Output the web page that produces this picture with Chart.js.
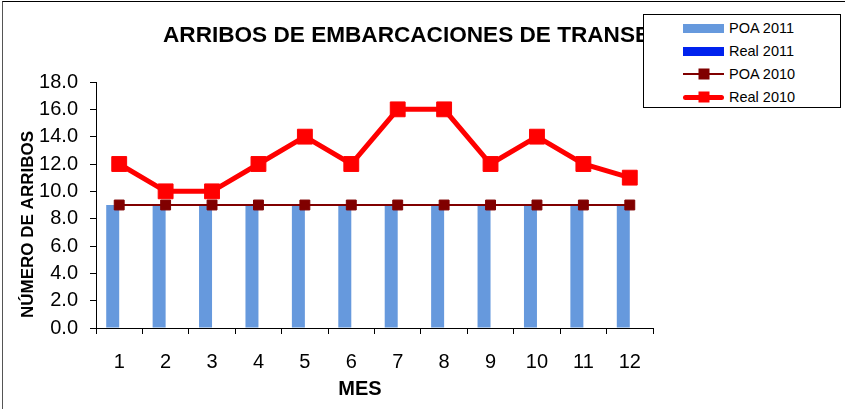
<!DOCTYPE html>
<html>
<head>
<meta charset="utf-8">
<script src="https://cdn.jsdelivr.net/npm/chart.js@4/dist/chart.umd.min.js"></script>
<style>
  html, body { margin: 0; padding: 0; background: #fff; }
  #wrap { position: relative; width: 845px; height: 409px; overflow: hidden; }
  #frame { position: absolute; left: 2px; top: 1px; right: -5px; bottom: -5px;
           border-left: 1px solid #555; border-top: 1px solid #000; pointer-events: none; }
  canvas { position: absolute; left: 0; top: 0; }
  #legend { position: absolute; left: 643px; top: 14px; width: 196px; height: 92px;
            border: 1px solid #000; background: #fff;
            font-family: Arial, "Liberation Sans", sans-serif; font-size: 14.5px; color: #000; }
  .row { position: absolute; left: 0; width: 100%; height: 20px; }
  .row span { position: absolute; left: 85px; top: 50%; transform: translateY(-52%); white-space: nowrap; }
  .sw { position: absolute; left: 39px; width: 41px; top: 50%; }
  .bar { height: 9px; margin-top: -4.5px; }
  .ln { height: 2px; margin-top: -1px; }
  .ln.thick { height: 5px; margin-top: -2.5px; border-radius: 3px; }
  .mk { position: absolute; left: 50%; top: 50%; width: 11px; height: 11px; transform: translate(-50%, -50%); }
</style>
</head>
<body>
<div id="wrap">
  <canvas id="chart" width="845" height="409"></canvas>
  <div id="frame"></div>
  <div id="legend"></div>
</div>
<script>
const months = ['1', '2', '3', '4', '5', '6', '7', '8', '9', '10', '11', '12'];
const poa2011 = [9, 9, 9, 9, 9, 9, 9, 9, 9, 9, 9, 9];
const real2011 = [];
const poa2010 = [9, 9, 9, 9, 9, 9, 9, 9, 9, 9, 9, 9];
const real2010 = [12, 10, 10, 12, 14, 12, 16, 16, 12, 14, 12, 11];

const titleText = 'ARRIBOS DE EMBARCACIONES DE TRANSBORDO';
const xTitle = 'MES';
const yTitle = 'NÚMERO DE ARRIBOS';

const colors = {
    poa2011: '#6699DD',
    real2011: '#0022EE',
    poa2010: '#800000',
    real2010: '#FF0000'
};

Chart.defaults.font.family = 'Arial, "Liberation Sans", sans-serif';
Chart.defaults.color = '#000';

// titles drawn by hand so they sit where the original puts them
const textPlugin = {
    id: 'texts',
    afterDraw(chart) {
        const ctx = chart.ctx;
        ctx.save();
        ctx.fillStyle = '#000';
        ctx.textBaseline = 'alphabetic';

        ctx.font = 'bold 22.6px Arial, "Liberation Sans", sans-serif';
        ctx.textAlign = 'left';
        ctx.fillText(titleText, 163, 42);

        ctx.font = 'bold 20px Arial, "Liberation Sans", sans-serif';
        ctx.textAlign = 'center';
        ctx.fillText(xTitle, 360, 395);

        ctx.font = 'bold 17px Arial, "Liberation Sans", sans-serif';
        ctx.translate(33, 224.5);
        ctx.rotate(-Math.PI / 2);
        ctx.fillText(yTitle, 0, 0);
        ctx.restore();
    }
};

new Chart(document.getElementById('chart'), {
    type: 'bar',
    data: {
        labels: months,
        datasets: [
            {
                label: 'POA 2011',
                data: poa2011,
                backgroundColor: colors.poa2011,
                borderWidth: 0,
                categoryPercentage: 0.56,
                barPercentage: 1.0,
                order: 3
            },
            {
                label: 'Real 2011',
                data: real2011,
                backgroundColor: colors.real2011,
                borderWidth: 0,
                categoryPercentage: 0.56,
                barPercentage: 1.0,
                order: 3
            },
            {
                type: 'line',
                label: 'POA 2010',
                data: poa2010,
                borderColor: colors.poa2010,
                backgroundColor: colors.poa2010,
                borderWidth: 2,
                pointStyle: 'rect',
                pointRadius: 7,
                pointBorderWidth: 1,
                pointBorderColor: colors.poa2010,
                pointBackgroundColor: colors.poa2010,
                tension: 0,
                order: 2
            },
            {
                type: 'line',
                label: 'Real 2010',
                data: real2010,
                borderColor: colors.real2010,
                backgroundColor: colors.real2010,
                borderWidth: 5,
                pointStyle: 'rect',
                pointRadius: 10.5,
                pointBorderWidth: 1,
                pointBorderColor: colors.real2010,
                pointBackgroundColor: colors.real2010,
                tension: 0,
                order: 1
            }
        ]
    },
    options: {
        responsive: false,
        animation: false,
        layout: { padding: { top: 82, right: 192, bottom: 0, left: 0 } },
        plugins: {
            legend: { display: false },
            title: { display: false },
            tooltip: { enabled: false }
        },
        scales: {
            x: {
                offset: true,
                grid: {
                    offset: true,
                    drawOnChartArea: false,
                    drawTicks: true,
                    tickLength: 6,
                    color: '#000'
                },
                border: { color: '#000', width: 1 },
                ticks: {
                    font: { size: 20 },
                    color: '#000',
                    padding: 16,
                    maxRotation: 0
                },
                afterFit(scale) { scale.height = 81; }
            },
            y: {
                min: 0,
                max: 18,
                grid: {
                    drawOnChartArea: false,
                    drawTicks: true,
                    tickLength: 6,
                    color: '#000'
                },
                border: { color: '#000', width: 1 },
                ticks: {
                    stepSize: 2,
                    font: { size: 20 },
                    color: '#000',
                    padding: 12,
                    callback: function(value) {
                        return value.toFixed(1);
                    }
                },
                afterFit(scale) { scale.width = 96; }
            }
        }
    },
    plugins: [textPlugin]
});

// legend box laid over the title, like the original
const legendItems = [
    { label: 'POA 2011', kind: 'bar', color: colors.poa2011 },
    { label: 'Real 2011', kind: 'bar', color: colors.real2011 },
    { label: 'POA 2010', kind: 'line', color: colors.poa2010 },
    { label: 'Real 2010', kind: 'thick', color: colors.real2010 }
];
const legend = document.getElementById('legend');
legendItems.forEach((item, i) => {
    const row = document.createElement('div');
    row.className = 'row';
    row.style.top = (13 + i * 23 - 10) + 'px';
    const sw = document.createElement('div');
    if (item.kind === 'bar') {
        sw.className = 'sw bar';
    } else {
        sw.className = item.kind === 'thick' ? 'sw ln thick' : 'sw ln';
        const mk = document.createElement('div');
        mk.className = 'mk';
        mk.style.background = item.color;
        sw.appendChild(mk);
    }
    sw.style.background = item.color;
    const txt = document.createElement('span');
    txt.textContent = item.label;
    row.appendChild(sw);
    row.appendChild(txt);
    legend.appendChild(row);
});
</script>
</body>
</html>
